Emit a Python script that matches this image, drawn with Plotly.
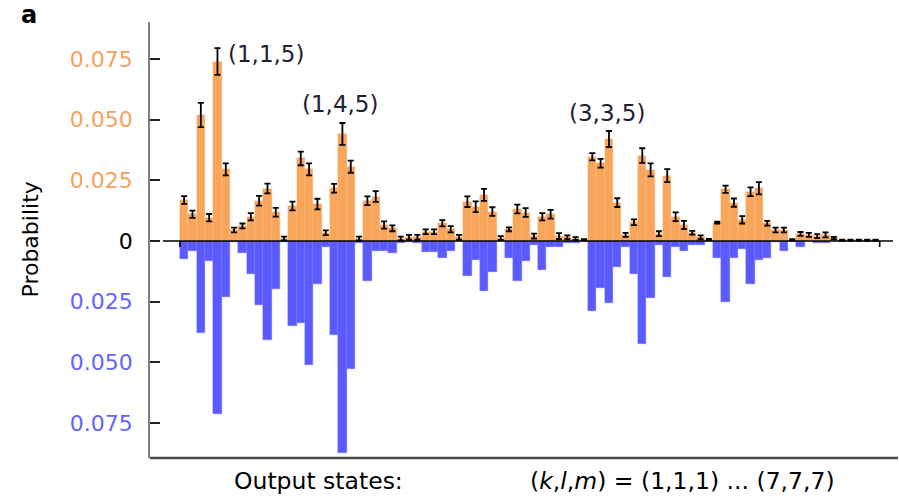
import itertools
import plotly.graph_objects as go

# Output states (k,l,m) with k <= l <= m for 7 modes: (1,1,1) ... (7,7,7)
states = list(itertools.combinations_with_replacement(range(1, 8), 3))

# Measured probabilities (upper, orange) with their errors
measured = [
    0.0169, 0.0110, 0.0519, 0.0096, 0.0739, 0.0295, 0.0045,
    0.0062, 0.0100, 0.0166, 0.0216, 0.0118, 0.0010,
    0.0144, 0.0340, 0.0295, 0.0152, 0.0034,
    0.0217, 0.0441, 0.0306, 0.0010,
    0.0166, 0.0183, 0.0066,
    0.0052, 0.0010,
    0.0015,
    0.0015, 0.0038, 0.0038, 0.0073, 0.0048, 0.0015,
    0.0162, 0.0141, 0.0190, 0.0121, 0.0012,
    0.0048, 0.0132, 0.0117, 0.0020,
    0.0100, 0.0110, 0.0020,
    0.0015, 0.0010,
    0.0005,
    0.0347, 0.0320, 0.0420, 0.0158, 0.0025,
    0.0077, 0.0352, 0.0293, 0.0030,
    0.0269, 0.0100, 0.0066,
    0.0034, 0.0015,
    0.0006,
    0.0076, 0.0213, 0.0158, 0.0087,
    0.0203, 0.0217, 0.0073,
    0.0045, 0.0045,
    0.0005,
    0.0029, 0.0025, 0.0020,
    0.0025, 0.0012,
    0.0003,
    0.0003, 0.0003,
    0.0003,
    0.0003,
]
measured_err = [
    0.0016, 0.0015, 0.0050, 0.0015, 0.0055, 0.0025, 0.0010,
    0.0010, 0.0015, 0.0020, 0.0020, 0.0018, 0.0008,
    0.0018, 0.0028, 0.0025, 0.0022, 0.0010,
    0.0018, 0.0045, 0.0025, 0.0008,
    0.0018, 0.0022, 0.0015,
    0.0012, 0.0008,
    0.0010,
    0.0010, 0.0010, 0.0010, 0.0013, 0.0013, 0.0010,
    0.0022, 0.0022, 0.0025, 0.0018, 0.0008,
    0.0008, 0.0018, 0.0018, 0.0010,
    0.0015, 0.0018, 0.0012,
    0.0008, 0.0006,
    0.0003,
    0.0015, 0.0018, 0.0033, 0.0018, 0.0008,
    0.0012, 0.0030, 0.0027, 0.0010,
    0.0027, 0.0018, 0.0017,
    0.0008, 0.0008,
    0.0003,
    0.0004, 0.0015, 0.0017, 0.0015,
    0.0018, 0.0025, 0.0010,
    0.0010, 0.0010,
    0.0003,
    0.0008, 0.0008, 0.0008,
    0.0010, 0.0005,
    0.0002,
    0.0002, 0.0002,
    0.0002,
    0.0002,
]

# Predicted probabilities (lower, blue), drawn downwards
predicted = [
    0.0076, 0.0040, 0.0380, 0.0082, 0.0714, 0.0229, 0.0005,
    0.0048, 0.0136, 0.0265, 0.0408, 0.0199, 0.0003,
    0.0350, 0.0339, 0.0511, 0.0177, 0.0026,
    0.0387, 0.0872, 0.0529, 0.0010,
    0.0163, 0.0040, 0.0040,
    0.0048, 0.0010,
    0.0003,
    0.0010, 0.0044, 0.0044, 0.0069, 0.0040, 0.0002,
    0.0143, 0.0078, 0.0206, 0.0126, 0.0002,
    0.0069, 0.0163, 0.0081, 0.0015,
    0.0120, 0.0023, 0.0026,
    0.0010, 0.0010,
    0.0002,
    0.0288, 0.0195, 0.0257, 0.0106, 0.0023,
    0.0136, 0.0424, 0.0233, 0.0016,
    0.0147, 0.0026, 0.0040,
    0.0016, 0.0016,
    0.0002,
    0.0069, 0.0250, 0.0069, 0.0032,
    0.0177, 0.0078, 0.0069,
    0.0003, 0.0040,
    0.0002,
    0.0026, 0.0002, 0.0010,
    0.0010, 0.0002,
    0.0001,
    0.0001, 0.0001,
    0.0001,
    0.0001,
]

highlighted = [(1, 1, 5), (1, 4, 5), (3, 3, 5)]
label_dx = [1.0, -0.3, -0.2]          # horizontal offset of each label from its bar
label_anchor = ["left", "center", "center"]
label_dy = [0.0031, 0.0123, 0.0107]   # vertical offset of each label above its bar

tick_vals = [0.075, 0.05, 0.025, 0, -0.025, -0.05, -0.075]
tick_text = ["0.075", "0.050", "0.025", "0", "0.025", "0.050", "0.075"]

ORANGE = "#F9A65A"
BLUE = "#5A5AFF"
ORANGE_TXT = "#F5A25E"
BLUE_TXT = "#6464FF"

idx = list(range(len(states)))
state_text = [f"({k},{l},{m})" for k, l, m in states]

W, H = 899, 499
ML, MR, MT, MB = 150, 6, 22, 41
PW, PH = W - ML - MR, H - MT - MB

fig = go.Figure()
fig.add_trace(go.Bar(
    x=idx, y=[-v for v in predicted], width=1.0,
    marker=dict(color=BLUE, line=dict(color="#7878FF", width=0.4)),
    hovertext=state_text, showlegend=False,
))
fig.add_trace(go.Bar(
    x=idx, y=measured, width=1.0,
    marker=dict(color=ORANGE, line=dict(color="#FBBC80", width=0.4)),
    error_y=dict(type="data", array=measured_err, color="black",
                 thickness=1.8, width=3),
    hovertext=state_text, showlegend=False,
))

x_lo, x_hi = -4.1, 85.1

def tick_label(text, value):
    color = ORANGE_TXT if value > 0 else (BLUE_TXT if value < 0 else "black")
    return f'<span style="color:{color}">{text}</span>'

fig.update_layout(
    width=W, height=H,
    margin=dict(l=ML, r=MR, t=MT, b=MB, pad=0),
    paper_bgcolor="white", plot_bgcolor="white",
    barmode="overlay", bargap=0,
    font=dict(family="DejaVu Sans", color="black"),
    xaxis=dict(range=[x_lo, x_hi], visible=False, fixedrange=True),
    yaxis=dict(
        range=[-0.0894, 0.0902],
        tickvals=tick_vals,
        ticktext=[tick_label(t, v) for t, v in zip(tick_text, tick_vals)],
        tickfont=dict(family="DejaVu Sans", size=22),
        ticks="inside", ticklen=10, tickwidth=1.5, tickcolor="#222",
        ticklabelstandoff=11,
        showline=True, linecolor="#808080", linewidth=1.5,
        showgrid=False, zeroline=False,
    ),
)

# zero line across the states, with end ticks at the first and last state
fig.add_shape(type="line", xref="x", yref="y", x0=-2.55, x1=x_hi, y0=0, y1=0,
              line=dict(color="black", width=1.6), layer="above")
for xe in (idx[0] - 0.5, idx[-1] + 0.5):
    fig.add_shape(type="line", xref="x", yref="y", xsizemode="scaled",
                  ysizemode="pixel", yanchor=0, x0=xe, x1=xe, y0=0, y1=-6,
                  line=dict(color="black", width=1.6))

# bottom frame line
fig.add_shape(type="line", xref="paper", yref="paper",
              x0=0, x1=(W - ML - 1) / PW, y0=0, y1=0,
              line=dict(color="#4a4a4a", width=2.5))

# labels for the highlighted states
for st, dx, dy, anc in zip(highlighted, label_dx, label_dy, label_anchor):
    i = states.index(st)
    fig.add_annotation(
        x=i + dx, y=measured[i] + dy, xref="x", yref="y",
        text=f"({st[0]},{st[1]},{st[2]})", showarrow=False,
        xanchor=anc, yanchor="middle",
        font=dict(family="DejaVu Sans", size=23, color="#1c2233"),
    )

def px_x(px):
    return (px - ML) / PW

def px_y(py):
    return (H - MB - py) / PH

fig.add_annotation(x=px_x(29.5), y=0.5, xref="paper", yref="paper",
                   text="Probability", textangle=-90, showarrow=False,
                   xanchor="center", yanchor="middle",
                   font=dict(family="DejaVu Sans", size=22, color="black"))
fig.add_annotation(x=px_x(318), y=px_y(481), xref="paper", yref="paper",
                   text="Output states:", showarrow=False,
                   xanchor="center", yanchor="middle",
                   font=dict(family="DejaVu Sans", size=23.5, color="black"))
fig.add_annotation(x=px_x(682), y=px_y(481), xref="paper", yref="paper",
                   text="(<i>k</i>,<i>l</i>,<i>m</i>) = (1,1,1) ... (7,7,7)",
                   showarrow=False, xanchor="center", yanchor="middle",
                   font=dict(family="DejaVu Sans", size=23.5, color="black"))
fig.add_annotation(x=px_x(29), y=px_y(15), xref="paper", yref="paper",
                   text="<b>a</b>", showarrow=False,
                   xanchor="center", yanchor="middle",
                   font=dict(family="DejaVu Sans", size=24, color="black"))

fig.write_html("out.html")
